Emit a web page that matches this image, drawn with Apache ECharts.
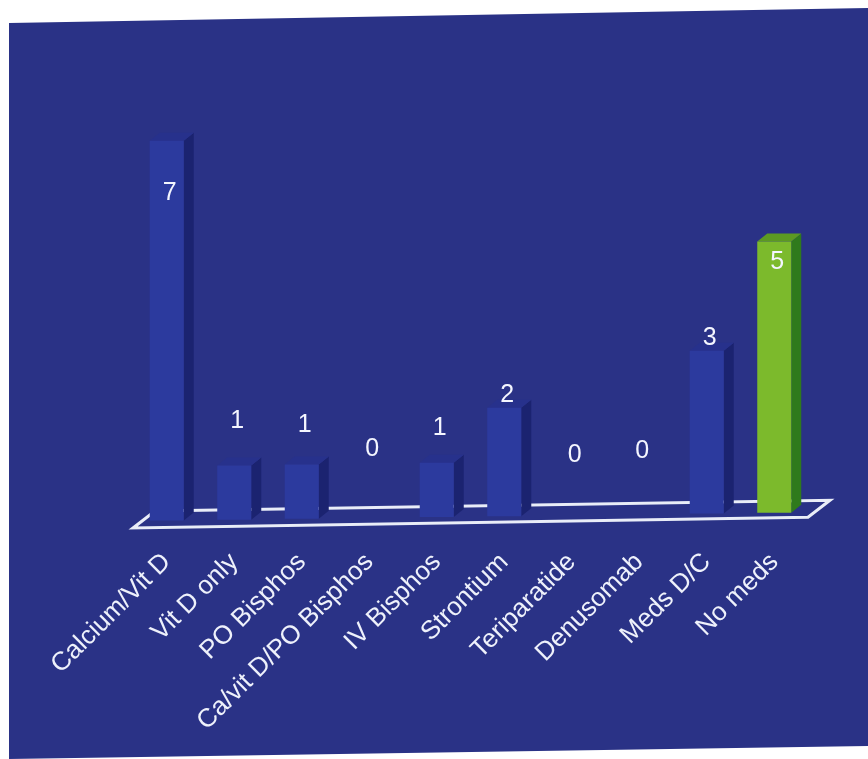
<!DOCTYPE html>
<html>
<head>
<meta charset="utf-8">
<script src="https://cdn.jsdelivr.net/npm/echarts@6/dist/echarts.min.js"></script>
<style>
  html, body { margin: 0; padding: 0; background: #ffffff; }
  #chart { width: 868px; height: 759px; }
</style>
</head>
<body>
<div id="chart"></div>
<script>
// Treatment categories and number of patients in each
const categories = [
  'Calcium/Vit D', 'Vit D only', 'PO Bisphos', 'Ca/vit D/PO Bisphos', 'IV Bisphos',
  'Strontium', 'Teriparatide', 'Denusomab', 'Meds D/C', 'No meds'
];
const patientCounts = [7, 1, 1, 0, 1, 2, 0, 0, 3, 5];
// Which bar is drawn in the accent (green) colour
const accentBar = [false, false, false, false, false, false, false, false, false, true];

// How far (px) each value label sits above the bar top (negative = inside the bar)
const labelLift = [-52, 44, 39, 69, 35, 13, 60, 63, 13, -21];

const BLUE = { front: '#2c3a9e', side: '#1b2370', top: '#27318c' };
const GREEN = { front: '#7cba2c', side: '#2f7a1c', top: '#5c9a22' };
const PANEL = '#2a3286';
const BAR_W = 34, DEPTH_X = 10, DEPTH_Y = 8;
const TILT = 0.013; // floor slopes slightly upward to the right

function tiltAt(x, coordSys) {
  return -(x - coordSys.x) * TILT;
}

function renderFloor(params, api) {
  const cs = params.coordSys;
  const left = cs.x, right = cs.x + cs.width;
  const base = api.coord([0, 0])[1];
  const yL = base + tiltAt(left, cs);
  const yR = base + tiltAt(right, cs);
  return {
    type: 'polygon',
    shape: {
      points: [
        [left, yL + 7], [left + 22, yL - 10],
        [right + 22, yR - 12], [right, yR + 5]
      ]
    },
    style: { fill: 'none', stroke: '#e9edf8', lineWidth: 3 }
  };
}

function renderBar(params, api) {
  const cs = params.coordSys;
  const i = api.value(0);
  const v = api.value(1);
  const basePt = api.coord([i, 0]);
  const topPt = api.coord([i, v]);
  const t = tiltAt(basePt[0], cs);
  const yb = basePt[1] + t;
  const yt = topPt[1] + t;
  const x0 = basePt[0] - BAR_W / 2;
  const x1 = basePt[0] + BAR_W / 2;
  const c = accentBar[params.dataIndex] ? GREEN : BLUE;
  const children = [];
  if (v > 0) {
    children.push({
      type: 'polygon',
      shape: { points: [[x1, yt], [x1 + DEPTH_X, yt - DEPTH_Y], [x1 + DEPTH_X, yb - DEPTH_Y], [x1, yb]] },
      style: { fill: c.side }
    });
    children.push({
      type: 'polygon',
      shape: { points: [[x0, yt], [x0 + DEPTH_X, yt - DEPTH_Y], [x1 + DEPTH_X, yt - DEPTH_Y], [x1, yt]] },
      style: { fill: c.top }
    });
    children.push({
      type: 'rect',
      shape: { x: x0, y: yt, width: BAR_W, height: yb - yt },
      style: { fill: c.front }
    });
  }
  children.push({
    type: 'text',
    style: {
      text: String(v),
      x: basePt[0] + 3,
      y: yt - labelLift[params.dataIndex],
      fill: '#f4f6ff',
      font: '25px "Liberation Sans", Arial, sans-serif',
      align: 'center',
      verticalAlign: 'middle'
    }
  });
  return { type: 'group', children: children };
}

const chart = echarts.init(document.getElementById('chart'), null, { renderer: 'canvas' });
chart.setOption({
  backgroundColor: '#ffffff',
  animation: false,
  graphic: [{
    type: 'polygon',
    silent: true,
    z: 0,
    shape: { points: [[9, 23], [868, 8], [868, 746], [9, 759]] },
    style: { fill: PANEL }
  }],
  grid: { left: 133, right: 60, top: 87, bottom: 238 },
  xAxis: {
    type: 'category',
    data: categories,
    axisLine: { show: false },
    axisTick: { show: false },
    splitLine: { show: false },
    axisLabel: {
      interval: 0,
      rotate: 45,
      margin: 37,
      color: '#eef1fb',
      fontSize: 26,
      fontFamily: '"Liberation Sans", Arial, sans-serif'
    }
  },
  yAxis: {
    type: 'value',
    min: 0,
    max: 8,
    show: false
  },
  series: [
    {
      type: 'custom',
      name: 'floor',
      z: 3,
      renderItem: renderFloor,
      data: [[0, 0]],
      silent: true
    },
    {
      type: 'custom',
      name: 'Patients',
      z: 5,
      renderItem: renderBar,
      data: patientCounts.map((v, i) => [i, v])
    }
  ]
});
</script>
</body>
</html>
